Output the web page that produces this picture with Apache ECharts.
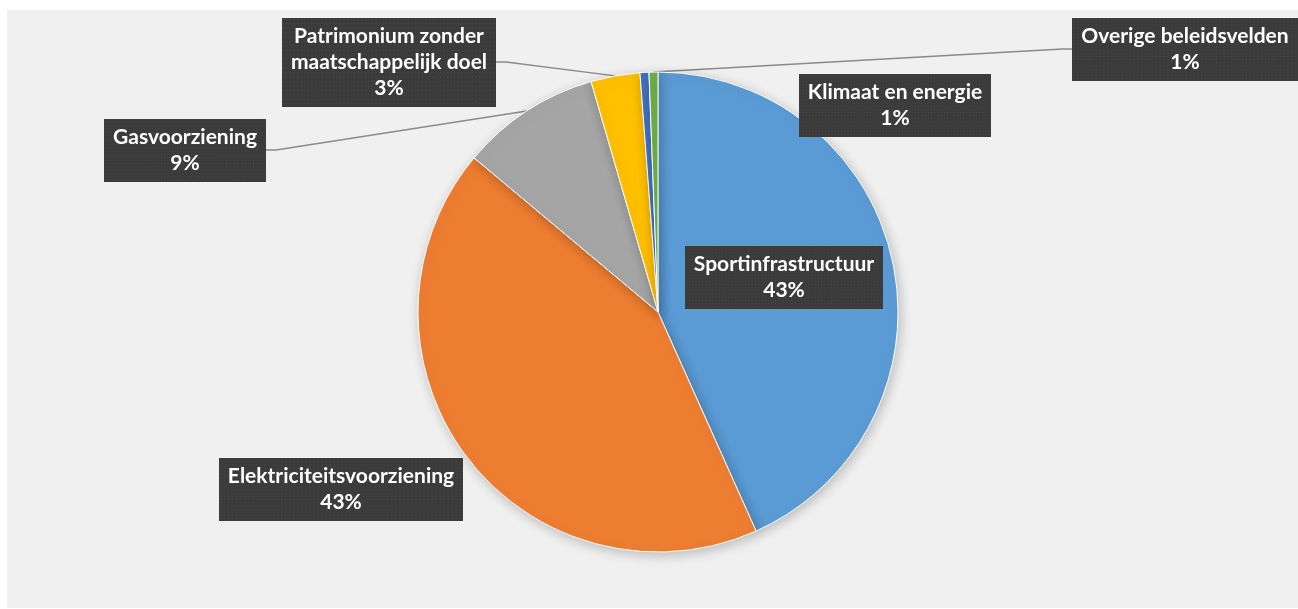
<!DOCTYPE html>
<html>
<head>
<meta charset="utf-8">
<script src="https://cdn.jsdelivr.net/npm/echarts@6/dist/echarts.min.js"></script>
<style>
  html, body { margin: 0; padding: 0; background: #ffffff; }
  #chart { width: 1298px; height: 609px; }
</style>
</head>
<body>
<div id="chart"></div>
<script>
// Investeringen per beleidsveld (aandeel)
const categories = [
  'Sportinfrastructuur',
  'Elektriciteitsvoorziening',
  'Gasvoorziening',
  'Patrimonium zonder\nmaatschappelijk doel',
  'Klimaat en energie',
  'Overige beleidsvelden'
];
const shares = [43.3, 42.8, 9.4, 3.3, 0.6, 0.6];
const colors = ['#5B9BD5', '#ED7D31', '#A5A5A5', '#FFC000', '#4472C4', '#70AD47'];

// Label box centres (px) and whether a leader line is drawn
const labelSpots = [
  { x: 784, y: 277, line: false },
  { x: 341, y: 489, line: false },
  { x: 185, y: 150, line: true },
  { x: 389, y: 62, line: true },
  { x: 895, y: 105, line: false },
  { x: 1185, y: 49, line: true }
];

// Dark dotted texture for the label boxes
function makeTexture() {
  const c = document.createElement('canvas');
  c.width = 240; c.height = 80;
  const g = c.getContext('2d');
  g.fillStyle = '#3b3b3b';
  g.fillRect(0, 0, c.width, c.height);
  g.fillStyle = '#4b4b4b';
  for (let y = 1; y < c.height; y += 4) {
    for (let x = 1; x < c.width; x += 4) {
      g.fillRect(x, y, 1, 1);
    }
  }
  return c;
}
const texture = makeTexture();

const chart = echarts.init(document.getElementById('chart'), null, { renderer: 'canvas' });

const seriesData = categories.map((name, i) => ({
  name: name,
  value: shares[i],
  itemStyle: { color: colors[i] },
  labelLine: { show: labelSpots[i].line }
}));

chart.setOption({
  animation: false,
  backgroundColor: '#ffffff',
  graphic: [{
    type: 'rect',
    shape: { x: 7, y: 10, width: 1291, height: 598 },
    style: { fill: '#f0f0f0' },
    z: -10
  }],
  series: [{
    type: 'pie',
    center: [658, 312],
    radius: 240,
    startAngle: 90,
    clockwise: true,
    avoidLabelOverlap: false,
    emphasis: { disabled: true },
    itemStyle: {
      borderColor: '#ffffff',
      borderWidth: 1,
      shadowBlur: 12,
      shadowColor: 'rgba(0,0,0,0.22)',
      shadowOffsetX: 2,
      shadowOffsetY: 3
    },
    label: {
      show: true,
      position: 'outside',
      formatter: p => p.name + '\n' + Math.round(p.percent) + '%',
      color: '#ffffff',
      fontFamily: 'Lato, "Open Sans", sans-serif',
      fontWeight: 'bold',
      fontSize: 21,
      lineHeight: 26,
      align: 'center',
      backgroundColor: { image: texture },
      padding: [6, 9, 5, 9],
      shadowColor: 'rgba(0,0,0,0.45)',
      shadowBlur: 5,
      shadowOffsetX: 2,
      shadowOffsetY: 3
    },
    labelLine: {
      show: true,
      length: 10,
      length2: 10,
      smooth: false,
      lineStyle: { color: '#8a8a8a', width: 1.4 }
    },
    labelLayout: function (params) {
      const s = labelSpots[params.dataIndex];
      return {
        x: s.x,
        y: s.y,
        align: 'center',
        verticalAlign: 'middle'
      };
    },
    data: seriesData
  }]
});
</script>
</body>
</html>
